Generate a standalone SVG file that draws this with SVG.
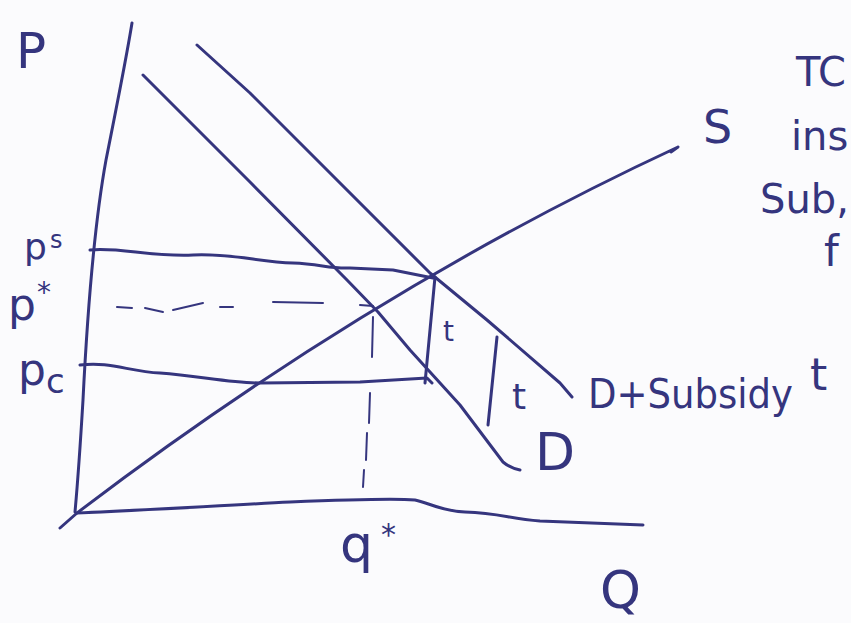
<svg xmlns="http://www.w3.org/2000/svg" width="851" height="623" viewBox="0 0 851 623">
<style>
.ln{fill:none;stroke:#35357e;stroke-width:3;stroke-linecap:round;stroke-linejoin:round}
.ds{stroke-width:2}
text{font-family:"DejaVu Sans","Liberation Sans",sans-serif;fill:#35357e}
</style>
<rect width="851" height="623" fill="#fbfbfd"/>
<g id="axes">
<path class="ln" d="M132,23 C126,60 116,110 106,160 C96,215 88,300 83,400 C80,450 77,490 75,512"/>
<path class="ln" d="M77,513 C150,510 230,505 290,502 C340,500 390,498 415,500 C430,503 440,511 465,512 C500,513 510,519 540,521 L643,525"/>
</g>
<g id="connectors">
<path id="S" class="ln" d="M60,528 L77,513 Q370,290 678,147 L671,152"/>
<path id="D" class="ln" d="M143,75 L250,182 L347,280 L378,312 L410,350 L460,405 L503,462 Q510,468 520,470"/>
<path id="DS" class="ln" d="M197,45 L250,93 L430,273 L487,320 L560,383 L572,397"/>
<path id="ps-line" class="ln" d="M90,250 C120,247 150,257 193,255 C230,253 260,262 293,263 C320,264 330,269 350,268 L393,270 L433,278"/>
<path id="pc-line" class="ln" d="M80,365 C110,361 130,372 160,373 C200,376 230,383 260,383 L360,382 L427,378 L432,383"/>
<path id="t-bar" class="ln" d="M435,277 L425,383"/>
<path id="t-bar2" class="ln" d="M497,337 L488,425"/>
<g id="pstar-dash" class="ln ds">
<path d="M117,307 L132,308"/>
<path d="M145,308 L163,312"/>
<path d="M173,310 L203,303"/>
<path d="M220,307 L233,307"/>
<path d="M273,302 L323,303"/>
<path d="M360,305 L373,306"/>
</g>
<g id="qstar-dash" class="ln ds">
<path d="M373,317 L372,357"/>
<path d="M370,393 L369,423"/>
<path d="M367,433 L366,460"/>
<path d="M364,470 L363,487"/>
</g>
</g>
<g id="labels">
<text x="16" y="68" font-size="50">P</text>
<text x="24" y="259" font-size="36">p</text>
<text x="50" y="248" font-size="24">s</text>
<text x="8" y="320" font-size="44">p</text>
<text x="37" y="302" font-size="28">*</text>
<text x="18" y="385" font-size="44">p</text>
<text x="46" y="393" font-size="34">c</text>
<text x="703" y="143" font-size="46">S</text>
<text x="443" y="341" font-size="28">t</text>
<text x="512" y="409" font-size="36">t</text>
<text x="588" y="408" font-size="40" textLength="205" lengthAdjust="spacingAndGlyphs">D+Subsidy</text>
<text x="810" y="390" font-size="44">t</text>
<text x="535" y="470" font-size="52">D</text>
<text x="340" y="562" font-size="52">q</text>
<text x="381" y="545" font-size="30">*</text>
<text x="600" y="608" font-size="52">Q</text>
<text x="796" y="86" font-size="40">TC</text>
<text x="791" y="150" font-size="40">ins</text>
<text x="760" y="213" font-size="40">Sub,</text>
<text x="824" y="266" font-size="42">f</text>
</g>
</svg>
